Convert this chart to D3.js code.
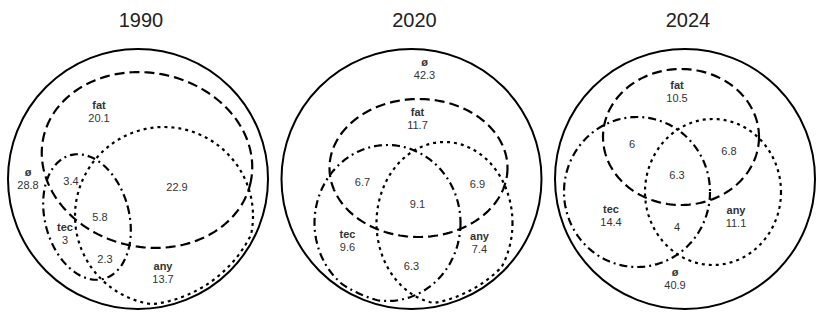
<!DOCTYPE html>
<html>
<head>
<meta charset="utf-8">
<script src="https://cdn.jsdelivr.net/npm/d3@7"></script>
<style>
  body { margin: 0; background: #fff; }
  svg { display: block; }
</style>
</head>
<body>
<script>
// data
var years = ["1990", "2020", "2024"];
var regions = ["fat", "tec", "any", "fat_tec", "fat_any", "tec_any", "all", "none"];
var regionNames = ["fat", "tec", "any", "", "", "", "", "ø"];
var values1990 = [20.1, 3, 13.7, 3.4, 22.9, 2.3, 5.8, 28.8];
var values2020 = [11.7, 9.6, 7.4, 6.7, 6.9, 6.3, 9.1, 42.3];
var values2024 = [10.5, 14.4, 11.1, 6, 6.8, 4, 6.3, 40.9];
var values = [values1990, values2020, values2024];

// layout (relative to the outer circle centre of each panel)
var sets = ["fat", "tec", "any"];
var dashes = { fat: "10,5", tec: "8,4,2,4", any: "3,4" };
// [dx, dy, rx, ry, rotation]
var shapes = {
  "1990": { fat: [9, -19, 106, 87, 12], tec: [-51, 38, 42, 64, -15], any: [26, 37, 89, 89, 0] },
  "2020": { fat: [7, -11, 89, 69, 0], tec: [-24, 44, 73, 78, 0], any: [33, 44, 68, 81, 0] },
  "2024": { fat: [-4, -42, 78, 68, 0], tec: [-48, 13, 73, 75, 0], any: [28, 13, 68, 73, 0] }
};
var labelPos = {
  "1990": [[-39, -74], [-73, 48], [25, 87], [-67, 2], [39, 8], [-33, 80], [-38, 38], [-110, -7]],
  "2020": [[6, -67], [-64, 55], [68, 57], [-49, 3], [66, 5], [0, 87], [6, 25], [13, -117]],
  "2024": [[-8, -94], [-74, 30], [51, 31], [-53, -35], [44, -28], [-8, 48], [-8, -4], [-10, 93]]
};

var w = 818, h = 312;
var R = 130, cy = 179;

var x = d3.scalePoint().domain(years).range([138, 685]);

// ellipse outline, kept just inside the outer circle
function ellipsePoints(e, maxR) {
  var pts = [];
  var a = e[4] * Math.PI / 180;
  for (var k = 0; k < 180; k++) {
    var t = 2 * Math.PI * k / 180;
    var px = e[2] * Math.cos(t), py = e[3] * Math.sin(t);
    var qx = e[0] + px * Math.cos(a) - py * Math.sin(a);
    var qy = e[1] + px * Math.sin(a) + py * Math.cos(a);
    var d = Math.sqrt(qx * qx + qy * qy);
    if (d > maxR) { qx = qx * maxR / d; qy = qy * maxR / d; }
    pts.push([qx, qy]);
  }
  return pts;
}
var line = d3.line().curve(d3.curveLinearClosed);

var svg = d3.select("body").append("svg")
  .attr("width", w)
  .attr("height", h)
  .style("font-family", "Arial, 'Liberation Sans', sans-serif");

var panel = svg.selectAll("g.panel")
  .data(years)
  .enter()
  .append("g")
  .attr("class", "panel")
  .attr("transform", function(d) { return "translate(" + x(d) + "," + cy + ")"; });

panel.append("text")
  .attr("x", 3)
  .attr("y", -152)
  .attr("text-anchor", "middle")
  .style("font-size", "20px")
  .style("fill", "#222")
  .text(function(d) { return d; });

panel.append("circle")
  .attr("r", R)
  .attr("fill", "none")
  .attr("stroke", "#000")
  .attr("stroke-width", 2);

panel.each(function(year, i) {
  var g = d3.select(this);
  sets.forEach(function(s) {
    g.append("path")
      .attr("d", line(ellipsePoints(shapes[year][s], R - 4)))
      .attr("fill", "none")
      .attr("stroke", "#000")
      .attr("stroke-width", 2.2)
      .attr("stroke-dasharray", dashes[s]);
  });

  regions.forEach(function(r, k) {
    var p = labelPos[year][k];
    var name = regionNames[k];
    var t = g.append("text")
      .attr("x", p[0])
      .attr("y", p[1] + 4)
      .attr("text-anchor", "middle")
      .style("font-size", "11px")
      .style("fill", "#333");
    if (name) {
      t.append("tspan").attr("x", p[0]).style("font-weight", "bold").text(name);
      t.append("tspan").attr("x", p[0]).attr("dy", 13).text(values[i][k]);
    } else {
      t.text(values[i][k]);
    }
  });
});
</script>
</body>
</html>
